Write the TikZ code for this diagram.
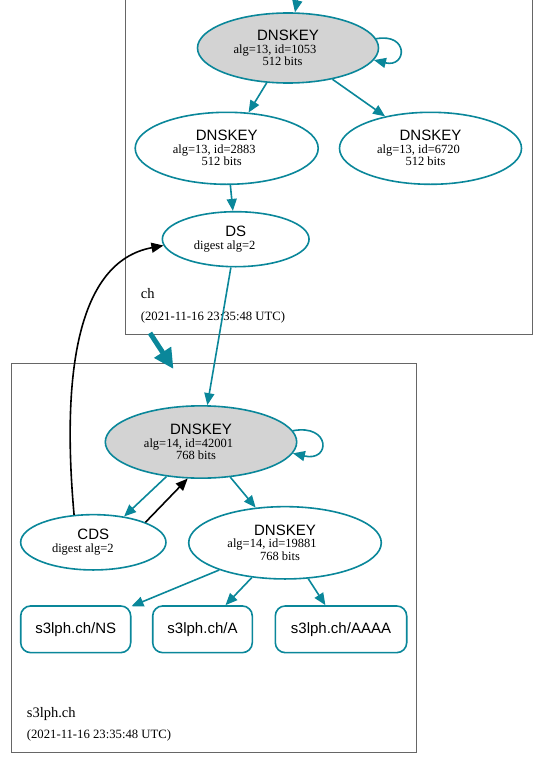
\documentclass[tikz,border=0pt]{standalone}
\usepackage{fontspec}
\setmainfont{Liberation Serif}
\setsansfont{Liberation Sans}
\usetikzlibrary{shapes.geometric,arrows.meta}
\definecolor{dteal}{HTML}{0A879A}
\definecolor{lgray}{HTML}{D3D3D3}
\newcommand\hdr[1]{{\sffamily\fontsize{15}{15}\selectfont #1}}
\newcommand\mv[2]{\hspace*{#1}#2}
\begin{document}
\begin{tikzpicture}[x=1pt,y=-1pt,
 keyE/.style={ellipse, draw=dteal, line width=1.6pt, inner sep=0pt, align=center, font=\fontsize{12.5}{12.5}\selectfont},
 rrbox/.style={rectangle, rounded corners=10pt, draw=dteal, line width=1.6pt, inner sep=0pt, minimum height=46.7pt, font=\sffamily\fontsize{15}{15}\selectfont},
 edge/.style={draw=dteal, line width=1.6pt, -{Triangle[length=12pt,width=10pt]}},
 blk/.style={draw=black, line width=1.6pt, -{Triangle[length=12pt,width=10pt]}},
 clbox/.style={draw=black!60, line width=0.8pt},
 cllab/.style={anchor=base west, inner sep=0pt, font=\fontsize{14.5}{14.5}\selectfont},
 cldate/.style={anchor=base west, inner sep=0pt, font=\fontsize{12.7}{12.7}\selectfont}]

\useasboundingbox (0,0) rectangle (539,763);
\fill[white] (0,0) rectangle (539,763);

% clusters
\draw[clbox] (125.7,-2) -- (125.7,334.3) -- (532.3,334.3) -- (532.3,-2);
\draw[clbox] (11.7,363.3) rectangle (416.7,752.7);

% nodes of zone ch
\node[keyE, fill=lgray, minimum width=181pt, minimum height=70pt] (k1) at (288,48)
  {\hdr{DNSKEY}\\\mv{-26pt}{alg=13, id=1053}\\\mv{-11pt}{512 bits}};
\node[keyE, minimum width=183pt, minimum height=72pt] (k2) at (226.7,148.3)
  {\hdr{DNSKEY}\\\mv{-25pt}{alg=13, id=2883}\\\mv{-10pt}{512 bits}};
\node[keyE, minimum width=182pt, minimum height=72pt] (k3) at (430.5,148.3)
  {\hdr{DNSKEY}\\\mv{-24pt}{alg=13, id=6720}\\\mv{-10pt}{512 bits}};
\node[keyE, minimum width=146.7pt, minimum height=55pt] (ds) at (235.7,239.2)
  {\hdr{DS}\\\mv{-22pt}{digest alg=2}};

\node[cllab] (lch) at (140.7,298) {ch};
\node[cldate] (dch) at (140.7,320) {(2021-11-16 23:35:48 UTC)};

% nodes of zone s3lph.ch
\node[keyE, fill=lgray, minimum width=191.4pt, minimum height=72.3pt] (k4) at (201,442)
  {\hdr{DNSKEY}\\\mv{-25pt}{alg=14, id=42001}\\\mv{-10pt}{768 bits}};
\node[keyE, minimum width=145.3pt, minimum height=55.3pt] (cds) at (93.3,542.3)
  {\hdr{CDS}\\\mv{-21pt}{digest alg=2}};
\node[keyE, minimum width=192.6pt, minimum height=72.3pt] (k5) at (285,542.8)
  {\hdr{DNSKEY}\\\mv{-26pt}{alg=14, id=19881}\\\mv{-10pt}{768 bits}};
\node[rrbox, minimum width=110pt] (ns) at (75.7,629.3) {s3lph.ch/NS};
\node[rrbox, minimum width=99.6pt] (a) at (202.5,629.3) {s3lph.ch/A};
\node[rrbox, minimum width=131.4pt] (aaaa) at (341,629.3) {s3lph.ch/AAAA};

\node[cllab] (ls) at (26.7,717.3) {s3lph.ch};
\node[cldate] (dls) at (26.7,738.3) {(2021-11-16 23:35:48 UTC)};

% edges
\coordinate (ktop) at (298,-3);
\draw[edge] (ktop) -- (k1);
\draw[edge] (k1.6) .. controls +(33,-6) and +(33,8) .. (k1.-8);
\draw[edge] (k1) -- (k2);
\draw[edge] (k1) -- (k3);
\draw[edge] (k2) -- (ds);
\draw[edge] (ds) -- (k4);
\draw[edge] (k4.7) .. controls +(38,-7) and +(38,9) .. (k4.-7.5);
\draw[edge] (k4.-135) -- (cds.40);
\draw[blk] (cds.21) -- (k4.-110);
\draw[edge] (k4) -- (k5);
\draw[edge] (k5) -- (ns);
\draw[edge] (k5) -- (a);
\draw[edge] (k5) -- (aaaa);
\draw[blk] (cds.125) .. controls (62,380) and (75,262) .. (ds.185);

\coordinate (c1) at (150,333);
\coordinate (c2) at (173.5,369);
\draw[dteal, line width=5pt, -{Triangle[length=20pt,width=19pt]}] (c1) -- (c2);
\end{tikzpicture}
\end{document}
